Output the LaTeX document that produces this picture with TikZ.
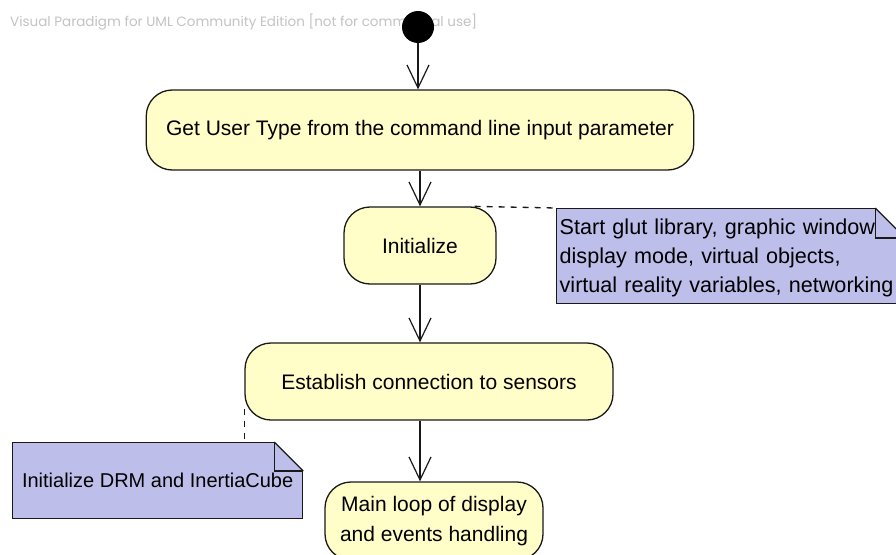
\documentclass[tikz,border=0pt]{standalone}
\usepackage{fontspec}
\setmainfont{Liberation Sans}
\newfontfamily\wmfont{Poppins}
\usetikzlibrary{arrows.meta}
\definecolor{actfill}{RGB}{255,253,200}
\definecolor{notefill}{RGB}{190,190,235}
\definecolor{edgecol}{RGB}{25,25,25}
\definecolor{wmcol}{RGB}{195,195,195}
\begin{document}
\begin{tikzpicture}[x=1pt,y=-1pt,
  act/.style={draw=edgecol, line width=1.3pt, fill=actfill, rounded corners=26pt,
    align=center, inner sep=0pt, font=\fontsize{21}{30}\selectfont},
  notebox/.style={draw=edgecol, line width=1.3pt, fill=notefill, anchor=north west,
    inner sep=3pt},
  flow/.style={draw=edgecol, line width=1.2pt,
    -{Straight Barb[length=23pt,width=22pt,line width=1.2pt]}},
  link/.style={draw=edgecol, line width=1.3pt, dash pattern=on 6pt off 6pt},
  foldline/.style={draw=edgecol, line width=1.2pt}
]
\useasboundingbox (0,0) rectangle (896,554);
\fill[white] (0,0) rectangle (896,554);

% watermark
\node[anchor=west, text=wmcol, inner sep=0pt, font=\wmfont\fontsize{13.5}{15}\selectfont]
  (wmk) at (10,22) {Visual Paradigm for UML Community Edition [not for commercial use]};

% initial node
\node[circle, fill=black, minimum size=32pt, inner sep=0pt] (start) at (418,27) {};

% actions
\node[act, minimum width=547.5pt, minimum height=80pt] (get) at (420,130)
  {Get User Type from the command line input parameter};
\node[act, minimum width=152pt, minimum height=77pt] (init) at (420,245.5) {Initialize};
\node[act, minimum width=368pt, minimum height=77pt] (est) at (429,381.5)
  {Establish connection to sensors};
\node[act, minimum width=218pt, minimum height=78pt] (main) at (434,521)
  {Main loop of display\\and events handling};

% notes
\node[notebox, minimum width=348pt, minimum height=95pt, text width=342pt, align=left,
  font=\fontsize{21.6}{29}\selectfont]
  (n1) at (556,208)
  {\rule{0pt}{20pt}Start glut library, graphic window\\display mode, virtual objects,\\virtual reality variables, networking};
\fill[white] ([xshift=-32pt,yshift=2pt]n1.north east) -- ([xshift=2pt,yshift=2pt]n1.north east)
  -- ([xshift=2pt,yshift=-32pt]n1.north east) -- cycle;
\draw[foldline] ([xshift=-30pt]n1.north east) -- ([yshift=-30pt]n1.north east);
\draw[foldline] ([xshift=-30pt]n1.north east) -- ([xshift=-30pt,yshift=-30pt]n1.north east)
  -- ([yshift=-30pt]n1.north east);

\node[notebox, minimum width=290pt, minimum height=76pt, align=center,
  font=\fontsize{20}{29}\selectfont]
  (n2) at (12,442) {Initialize DRM and InertiaCube};
\fill[white] ([xshift=-31pt,yshift=2pt]n2.north east) -- ([xshift=2pt,yshift=2pt]n2.north east)
  -- ([xshift=2pt,yshift=-31pt]n2.north east) -- cycle;
\draw[foldline] ([xshift=-29pt]n2.north east) -- ([yshift=-29pt]n2.north east);
\draw[foldline] ([xshift=-29pt]n2.north east) -- ([xshift=-29pt,yshift=-29pt]n2.north east)
  -- ([yshift=-29pt]n2.north east);

% connectors
\draw[flow] (start.south) -- (start.south |- get.north);
\draw[flow] (init.north |- get.south) -- (init.north);
\draw[flow] (init.south) -- (init.south |- est.north);
\draw[flow] (init.south |- est.south) -- (init.south |- main.north);

\draw[link] ([xshift=-22pt]init.north east) -- (n1.north west);
\draw[link] ([yshift=12pt]est.south west) -- (est.south west |- n2.north);
\end{tikzpicture}
\end{document}
